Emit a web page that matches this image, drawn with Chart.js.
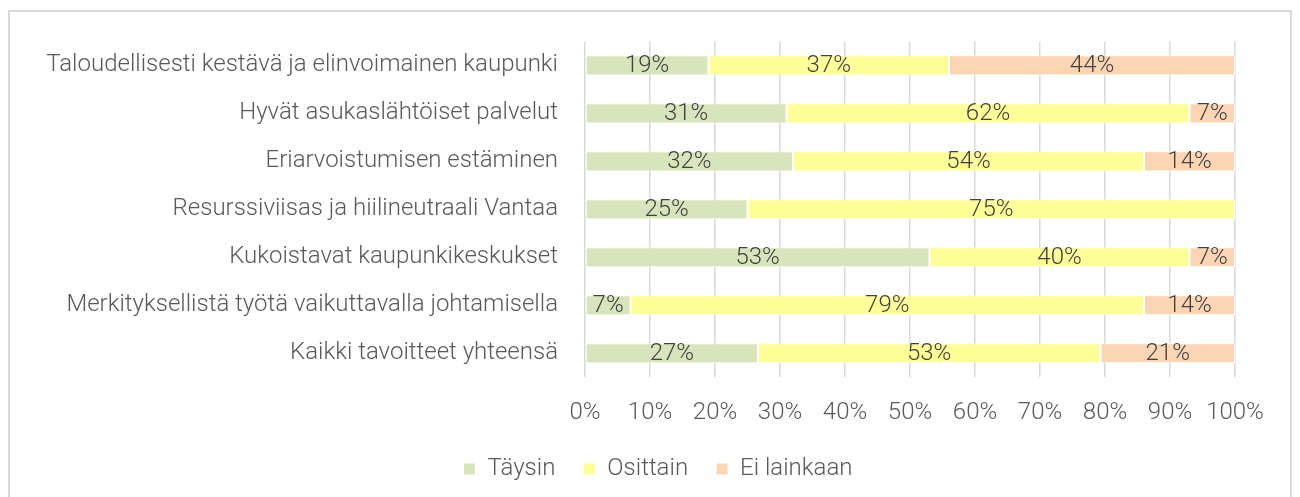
<!DOCTYPE html>
<html>
<head>
<meta charset="utf-8">
<script src="https://cdn.jsdelivr.net/npm/chart.js@4/dist/chart.umd.min.js"></script>
<style>
  html, body { margin: 0; padding: 0; background: #fff; overflow: hidden; }
  #frame {
    position: absolute; left: 8px; top: 10px; width: 1284px; height: 500px;
    border: 2px solid #d9d9d9; box-sizing: border-box;
  }
  #wrap { position: absolute; left: 0; top: 0; width: 1300px; height: 497px; }
</style>
</head>
<body>
<div id="frame"></div>
<div id="wrap"><canvas id="goalsChart"></canvas></div>
<script>
// Tavoitteiden toteutuminen, osuudet prosentteina
const categories = [
  "Taloudellisesti kestävä ja elinvoimainen kaupunki",
  "Hyvät asukaslähtöiset palvelut",
  "Eriarvoistumisen estäminen",
  "Resurssiviisas ja hiilineutraali Vantaa",
  "Kukoistavat kaupunkikeskukset",
  "Merkityksellistä työtä vaikuttavalla johtamisella",
  "Kaikki tavoitteet yhteensä"
];
const taysin = [19, 31, 32, 25, 53, 7, 26.6];
const osittain = [37, 62, 54, 75, 40, 79, 52.7];
const eiLainkaan = [44, 7, 14, 0, 7, 14, 20.7];
const xTicks = [0, 10, 20, 30, 40, 50, 60, 70, 80, 90, 100];

const FONT = "Roboto, sans-serif";
const FONT_SIZE = 24;
const textColor = "#595959";
const PAD_LEFT = 16;

// Simple value labels in the middle of each segment
const segmentLabels = {
  id: "segmentLabels",
  afterDatasetsDraw(chart) {
    const ctx = chart.ctx;
    ctx.save();
    ctx.font = "300 " + FONT_SIZE + "px " + FONT;
    ctx.fillStyle = "#404040";
    ctx.textAlign = "center";
    ctx.textBaseline = "middle";
    chart.data.datasets.forEach((ds, di) => {
      const meta = chart.getDatasetMeta(di);
      meta.data.forEach((bar, i) => {
        const v = ds.data[i];
        if (!v) return;
        const cx = (bar.x + bar.base) / 2;
        ctx.fillText(Math.round(v) + "%", cx, bar.y + 1);
      });
    });
    ctx.restore();
  }
};

const ctx = document.getElementById("goalsChart").getContext("2d");
new Chart(ctx, {
  type: "bar",
  data: {
    labels: categories,
    datasets: [
      { label: "Täysin", data: taysin, backgroundColor: "#d8e4bc" },
      { label: "Osittain", data: osittain, backgroundColor: "#ffff99" },
      { label: "Ei lainkaan", data: eiLainkaan, backgroundColor: "#fcd5b4" }
    ].map(d => Object.assign(d, {
      borderColor: "#ffffff",
      borderWidth: 1,
      borderSkipped: false,
      barPercentage: 0.42,
      categoryPercentage: 1
    }))
  },
  options: {
    indexAxis: "y",
    responsive: true,
    maintainAspectRatio: false,
    animation: false,
    layout: { padding: { top: 40, right: 0, left: PAD_LEFT, bottom: 6 } },
    plugins: {
      legend: {
        position: "bottom",
        labels: {
          color: textColor,
          font: { family: FONT, size: FONT_SIZE, weight: "300" },
          boxWidth: 12,
          boxHeight: 12,
          padding: 28
        }
      },
      tooltip: { enabled: false }
    },
    scales: {
      x: {
        stacked: true,
        min: 0,
        max: 100,
        afterBuildTicks: s => { s.ticks = xTicks.map(v => ({ value: v })); },
        afterFit: s => { s.height -= 19; },
        grid: { color: "#d9d9d9", lineWidth: 1.5, drawTicks: false },
        border: { display: false },
        ticks: {
          color: textColor,
          font: { family: FONT, size: FONT_SIZE, weight: "300" },
          padding: 21,
          callback: v => v + "%"
        }
      },
      y: {
        stacked: true,
        afterFit: s => { s.width = 585 - PAD_LEFT; },
        grid: { display: false, drawTicks: false },
        border: { display: false },
        ticks: {
          color: textColor,
          font: { family: FONT, size: FONT_SIZE, weight: "300" },
          padding: 27
        }
      },
      // empty right-hand axis, keeps room on the right of the bars
      yRight: {
        axis: "y",
        position: "right",
        afterFit: s => { s.width = 65; },
        grid: { display: false, drawTicks: false },
        border: { display: false },
        ticks: { display: false }
      }
    }
  },
  plugins: [segmentLabels]
});
</script>
</body>
</html>
